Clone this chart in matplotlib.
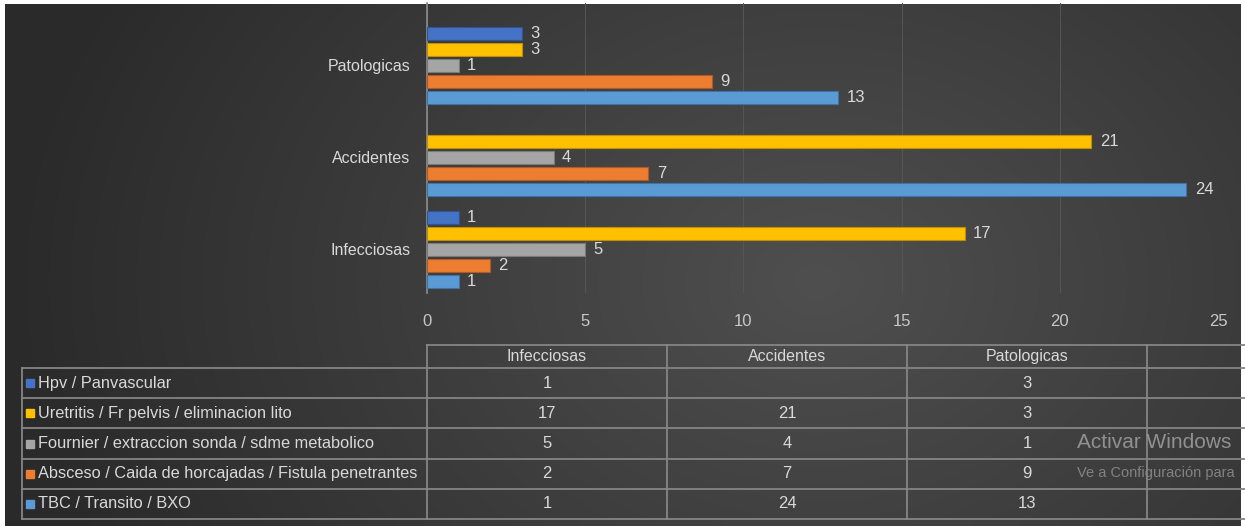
import numpy as np
import matplotlib.pyplot as plt
from matplotlib.patches import Rectangle

plt.rcParams['font.family'] = ['Liberation Sans', 'DejaVu Sans']

categories = ["Infecciosas", "Accidentes", "Patologicas"]
series = [
    "TBC / Transito / BXO",
    "Absceso / Caida de horcajadas / Fistula penetrantes",
    "Fournier / extraccion sonda / sdme metabolico",
    "Uretritis / Fr pelvis / eliminacion lito",
    "Hpv / Panvascular",
]
values = [
    [1, 24, 13],
    [2, 7, 9],
    [5, 4, 1],
    [17, 21, 3],
    [1, None, 3],
]
colors = ["#5b9bd5", "#ed7d31", "#a5a5a5", "#ffc000", "#4472c4"]
edges = ["#3f73a3", "#b25a1f", "#7a7a7a", "#c09000", "#2f5597"]
xticks = [0, 5, 10, 15, 20, 25]

W, H = 1245, 526
fig = plt.figure(figsize=(W / 100, H / 100), dpi=100)
fig.patch.set_facecolor("white")

# background gradient
bg = fig.add_axes([5 / W, 0, (W - 9) / W, (H - 4) / H])
xx, yy = np.meshgrid(np.linspace(0, W, 300), np.linspace(0, H, 120))
r = np.sqrt((xx - 820) ** 2 + ((yy - 280) * 1.3) ** 2)
v = 0.31 - 0.145 * np.clip(r / 820, 0, 1)
img = np.dstack([v, v, v])
bg.imshow(img, extent=[0, W, H, 0], aspect="auto", interpolation="bilinear")
bg.set_axis_off()

# bar chart
x0, x1 = 427, 1218
ytop, ybot = 3, 293
ax = fig.add_axes([x0 / W, 1 - ybot / H, (x1 - x0) / W, (ybot - ytop) / H])
ax.set_facecolor("none")
n = len(series)
step = 16 / 92
hgt = 13 / 92
ypos = np.arange(len(categories))
for i, (name, vals) in enumerate(zip(series, values)):
    off = (i - (n - 1) / 2) * step
    for j, val in enumerate(vals):
        if val is None:
            continue
        ax.barh(ypos[j] + off, val, height=hgt, color=colors[i],
                edgecolor=edges[i], linewidth=0.8, zorder=3)
        ax.annotate(str(val), (val, ypos[j] + off), xytext=(6, 0),
                    textcoords="offset points", va="center", ha="left",
                    color="#d9d9d9", fontsize=12)
ax.set_xlim(0, 25)
ax.set_ylim(-(ybot - 249) / 92, (249 - ytop) / 92)
ax.set_yticks(ypos, categories)
ax.set_xticks(xticks)
ax.tick_params(axis="y", length=0, pad=12, labelcolor="#d9d9d9", labelsize=11.5)
ax.tick_params(axis="x", length=0, pad=15, labelcolor="#c8c8c8", labelsize=12)
for s in ["top", "right", "bottom"]:
    ax.spines[s].set_visible(False)
ax.spines["left"].set_color("#8c8c8c")
ax.spines["left"].set_linewidth(1.2)
ax.xaxis.grid(True, color="#565656", linewidth=0.7, zorder=0)
ax.set_axisbelow(True)

# data table (pixel coordinates)
tb = fig.add_axes([0, 0, 1, 1])
tb.set_xlim(0, W)
tb.set_ylim(H, 0)
tb.set_axis_off()
tb.patch.set_alpha(0)
lc = "#858585"
col_x = [427, 667, 907, 1147, 1400]
hdr_top, hdr_bot = 345, 368
row_h = 30.2
tleft = 22
for cx in col_x[:-1]:
    tb.plot([cx, cx], [hdr_top, hdr_bot + 5 * row_h], color=lc, lw=1.3)
tb.plot([tleft, tleft], [hdr_bot, hdr_bot + 5 * row_h], color=lc, lw=1.3)
tb.plot([427, W], [hdr_top, hdr_top], color=lc, lw=1.3)
for k in range(6):
    yk = hdr_bot + k * row_h
    tb.plot([tleft, W], [yk, yk], color=lc, lw=1.3)
for j, cat in enumerate(categories):
    tb.text((col_x[j] + col_x[j + 1]) / 2, (hdr_top + hdr_bot) / 2, cat,
            ha="center", va="center", color="#d9d9d9", fontsize=11.5)
for k in range(n):
    i = n - 1 - k
    yc = hdr_bot + (k + 0.5) * row_h
    tb.add_patch(Rectangle((26, yc - 4), 8, 8, color=colors[i]))
    tb.text(38, yc, series[i], ha="left", va="center", color="#d9d9d9", fontsize=11.8)
    for j, val in enumerate(values[i]):
        if val is None:
            continue
        tb.text((col_x[j] + col_x[j + 1]) / 2, yc, str(val), ha="center",
                va="center", color="#d9d9d9", fontsize=12)

# watermark
tb.text(1077, 443, "Activar Windows", ha="left", va="center", color="#9a9a9a",
        fontsize=15, alpha=0.9)
tb.text(1077, 473, "Ve a Configuración para", ha="left", va="center",
        color="#8a8a8a", fontsize=10.5, alpha=0.9)

fig.savefig("out.png", dpi=100, facecolor="white")
